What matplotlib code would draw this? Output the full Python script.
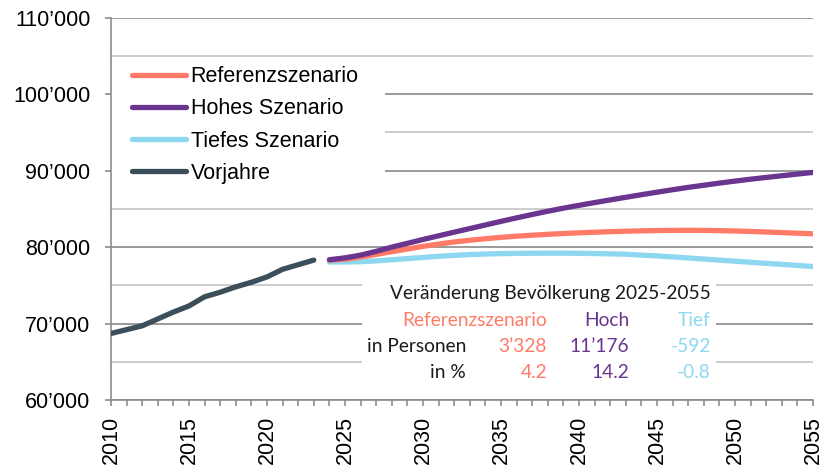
import matplotlib
matplotlib.use("Agg")
import matplotlib.pyplot as plt
from matplotlib.patches import Rectangle
from matplotlib.ticker import MultipleLocator, FuncFormatter

# Daten
jahre_vor = list(range(2010, 2024))
vorjahre = [68700, 69200, 69700, 70600, 71500, 72300, 73500, 74100, 74800,
            75400, 76100, 77100, 77700, 78300]

jahre_sz = list(range(2024, 2056))
referenz = [78300, 78410, 78700, 79050, 79400, 79750, 80100, 80400, 80680,
            80900, 81100, 81280, 81430, 81560, 81680, 81780, 81870, 81950,
            82020, 82080, 82130, 82170, 82190, 82200, 82190, 82160, 82110,
            82050, 81980, 81900, 81820, 81740]
hoch = [78350, 78600, 78950, 79450, 80000, 80500, 81000, 81480, 81960,
        82430, 82900, 83370, 83830, 84270, 84700, 85100, 85470, 85830,
        86180, 86520, 86860, 87190, 87510, 87820, 88100, 88380, 88640,
        88890, 89120, 89340, 89560, 89780]
tief = [78050, 78050, 78100, 78200, 78350, 78500, 78650, 78800, 78920,
        79020, 79100, 79150, 79180, 79200, 79210, 79210, 79190, 79160,
        79120, 79070, 78950, 78850, 78720, 78580, 78440, 78300, 78160,
        78020, 77880, 77740, 77600, 77460]

tab_titel = "Veränderung Bevölkerung 2025-2055"
tab_kopf = ["Referenzszenario", "Hoch", "Tief"]
tab_zeilen = ["in Personen", "in %"]
tab_werte = [["3’328", "11’176", "-592"], ["4.2", "14.2", "-0.8"]]

c_ref = "#ff7b67"
c_hoch = "#6a358f"
c_tief = "#8dd7f0"
c_vor = "#3b4e59"

plt.rcParams['font.family'] = ['Liberation Sans', 'DejaVu Sans']

fig = plt.figure(figsize=(8.28, 4.70), dpi=100)
ax = fig.add_axes([0.134, 0.149, 0.848, 0.813])

lw = 3.8
ax.plot(jahre_sz, referenz, color=c_ref, lw=lw, solid_capstyle='round', label="Referenzszenario", zorder=3)
ax.plot(jahre_sz, hoch, color=c_hoch, lw=lw, solid_capstyle='round', label="Hohes Szenario", zorder=3)
ax.plot(jahre_sz, tief, color=c_tief, lw=lw, solid_capstyle='round', label="Tiefes Szenario", zorder=2.9)
ax.plot(jahre_vor, vorjahre, color=c_vor, lw=lw, solid_capstyle='round', label="Vorjahre", zorder=3)

ax.set_xlim(2010, 2055)
ax.set_ylim(60000, 110000)
ax.yaxis.set_major_locator(MultipleLocator(10000))
ax.yaxis.set_minor_locator(MultipleLocator(5000))
ax.yaxis.set_major_formatter(FuncFormatter(lambda v, p: f"{v:,.0f}".replace(",", "’")))
ax.xaxis.set_major_locator(MultipleLocator(5))
ax.xaxis.set_minor_locator(MultipleLocator(1))
ax.xaxis.set_major_formatter(FuncFormatter(lambda v, p: f"{int(v)}"))

ax.set_axisbelow(True)
ax.grid(axis='y', which='major', color='#9a9a9a', lw=1.4)
ax.grid(axis='y', which='minor', color='#c4c4c4', lw=1.2)

for s in ['top', 'right']:
    ax.spines[s].set_visible(False)
for s in ['left', 'bottom']:
    ax.spines[s].set_color('#8c8c8c')
    ax.spines[s].set_linewidth(1.2)

ax.tick_params(axis='y', which='major', length=4.3, color='#8c8c8c', width=1.2, labelsize=15.5, pad=10.5)
ax.tick_params(axis='y', which='minor', length=0)
ax.tick_params(axis='x', which='both', length=4.3, color='#8c8c8c', width=1.2, labelsize=15.5,
               labelrotation=90, pad=7)

# weisse Flaechen hinter Legende und Tabelle
ax.add_patch(Rectangle((0, 0.55), 0.39, 0.34, transform=ax.transAxes,
                       facecolor='white', edgecolor='none', zorder=1))
ax.add_patch(Rectangle((0.357, 0.03), 0.505, 0.32, transform=ax.transAxes,
                       facecolor='white', edgecolor='none', zorder=1))

leg = ax.legend(loc='upper left', bbox_to_anchor=(0.0, 0.93), frameon=False,
                fontsize=15.5, handlelength=2.5, handletextpad=0.2,
                labelspacing=0.52, borderaxespad=0.6)

# Tabelle
tf = ['Lato', 'DejaVu Sans']
fs = 13.8
def px(x, y):
    return x / 828, 1 - y / 470

fig.text(*px(711, 293), tab_titel, ha='right', va='center', fontsize=fs, family=tf, color='#1a1a1a')
kopf_x = [547, 629, 711]
farben = [c_ref, c_hoch, c_tief]
for k, xk, c in zip(tab_kopf, kopf_x, farben):
    fig.text(*px(xk, 320), k, ha='right', va='center', fontsize=fs, family=tf, color=c)
for i, (zeile, yz) in enumerate(zip(tab_zeilen, [347, 373])):
    fig.text(*px(466, yz), zeile, ha='right', va='center', fontsize=fs, family=tf, color='#1a1a1a')
    for w, xk, c in zip(tab_werte[i], kopf_x, farben):
        fig.text(*px(xk, yz), w, ha='right', va='center', fontsize=fs, family=tf, color=c)

fig.savefig("out.png", dpi=100)
